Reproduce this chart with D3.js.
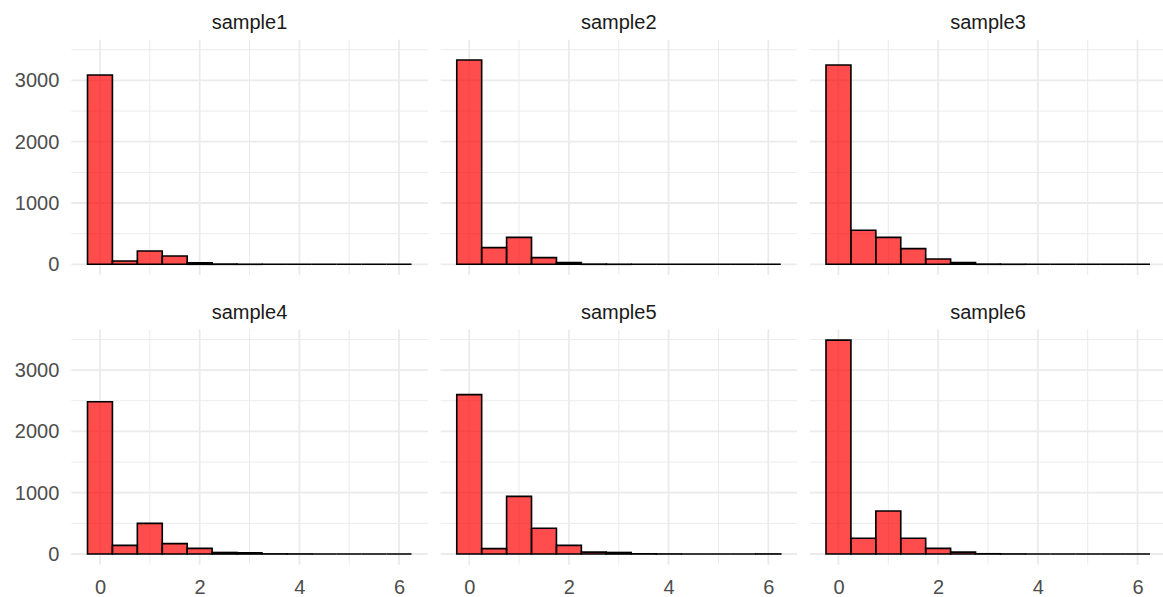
<!DOCTYPE html>
<html>
<head>
<meta charset="utf-8">
<script src="https://cdn.jsdelivr.net/npm/d3@7"></script>
<style>
  body { margin: 0; background: #fff; }
  svg { display: block; }
</style>
</head>
<body>
<div id="chart"></div>
<script>
// histogram bins (centres, width 0.5)
const binCenters = [0, 0.5, 1, 1.5, 2, 2.5, 3, 3.5, 4, 4.5, 5, 5.5, 6];
const binWidth = 0.5;

const panelNames = ['sample1', 'sample2', 'sample3', 'sample4', 'sample5', 'sample6'];

const sample1 = [3088, 55, 217, 136, 25, 4, 1, 0, 0, 0, 0, 0, 0];
const sample2 = [3333, 272, 440, 109, 28, 3, 1, 0, 0, 0, 0, 0, 0];
const sample3 = [3252, 555, 440, 256, 87, 27, 3, 1, 0, 0, 0, 0, 0];
const sample4 = [2485, 141, 500, 169, 92, 25, 20, 2, 1, 0, 0, 0, 0];
const sample5 = [2600, 87, 941, 419, 141, 30, 25, 3, 1, 0, 0, 0, 1];
const sample6 = [3490, 256, 701, 256, 92, 30, 4, 1, 0, 0, 0, 0, 0];

const xMajor = [0, 2, 4, 6];
const xMinor = [1, 3, 5];
const yMajor = [0, 1000, 2000, 3000];
const yMinor = [500, 1500, 2500, 3500];

const series = [sample1, sample2, sample3, sample4, sample5, sample6];

const width = 1163, height = 597;
const panelLeft = 71.3, colStep = 369.25, panelW = 356.4;
const panelTop = 39.7, rowStep = 289.7, panelH = 235.3;

const svg = d3.select('#chart')
  .append('svg')
  .attr('width', width)
  .attr('height', height);

const lo = binCenters[0] - binWidth / 2;
const hi = binCenters[binCenters.length - 1] + binWidth / 2;
const xPad = (hi - lo) * 0.05;
const yMax = d3.max(series, s => d3.max(s));

const font = '"Liberation Sans", Arial, sans-serif';

series.forEach((counts, i) => {
  const col = i % 3, row = Math.floor(i / 3);
  const left = panelLeft + col * colStep;
  const top = panelTop + row * rowStep;

  const x = d3.scaleLinear()
    .domain([lo - xPad, hi + xPad])
    .range([left, left + panelW]);
  const y = d3.scaleLinear()
    .domain([-0.05 * yMax, 1.05 * yMax])
    .range([top + panelH, top]);

  const g = svg.append('g');

  // minor grid
  g.selectAll('.vmin').data(xMinor).enter().append('line')
    .attr('x1', d => x(d)).attr('x2', d => x(d))
    .attr('y1', top).attr('y2', top + panelH)
    .attr('stroke', '#ebebeb').attr('stroke-width', 1);
  g.selectAll('.hmin').data(yMinor).enter().append('line')
    .attr('x1', left).attr('x2', left + panelW)
    .attr('y1', d => y(d)).attr('y2', d => y(d))
    .attr('stroke', '#ebebeb').attr('stroke-width', 1);
  // major grid
  g.selectAll('.vmaj').data(xMajor).enter().append('line')
    .attr('x1', d => x(d)).attr('x2', d => x(d))
    .attr('y1', top).attr('y2', top + panelH)
    .attr('stroke', '#ebebeb').attr('stroke-width', 1.8);
  g.selectAll('.hmaj').data(yMajor).enter().append('line')
    .attr('x1', left).attr('x2', left + panelW)
    .attr('y1', d => y(d)).attr('y2', d => y(d))
    .attr('stroke', '#ebebeb').attr('stroke-width', 1.8);

  // bars as paths so empty bins still show as a line
  g.selectAll('.bar').data(counts).enter().append('path')
    .attr('d', (d, j) => {
      const x0 = x(binCenters[j] - binWidth / 2), x1 = x(binCenters[j] + binWidth / 2);
      return `M${x0},${y(0)}V${y(d)}H${x1}V${y(0)}Z`;
    })
    .attr('fill', 'red').attr('fill-opacity', 0.7)
    .attr('stroke', '#000').attr('stroke-width', 1.6)
    .attr('stroke-linejoin', 'miter');

  // strip title
  g.append('text')
    .attr('x', left + panelW / 2).attr('y', top - 10.5)
    .attr('text-anchor', 'middle')
    .attr('font-family', font).attr('font-size', '20px')
    .attr('fill', '#1a1a1a')
    .text(panelNames[i]);

  if (col === 0) {
    const ay = g.append('g')
      .attr('transform', `translate(${left},0)`)
      .call(d3.axisLeft(y).tickValues(yMajor).tickFormat(d3.format('d')).tickSize(0).tickPadding(12));
    ay.select('.domain').remove();
    ay.selectAll('text')
      .attr('font-family', font).attr('font-size', '20px')
      .attr('fill', '#4d4d4d');
  }
  if (row === 1) {
    const ax = g.append('g')
      .attr('transform', `translate(0,${top + panelH})`)
      .call(d3.axisBottom(x).tickValues(xMajor).tickFormat(d3.format('d')).tickSize(0).tickPadding(15));
    ax.select('.domain').remove();
    ax.selectAll('text')
      .attr('font-family', font).attr('font-size', '20px')
      .attr('fill', '#4d4d4d');
  }
});
</script>
</body>
</html>
